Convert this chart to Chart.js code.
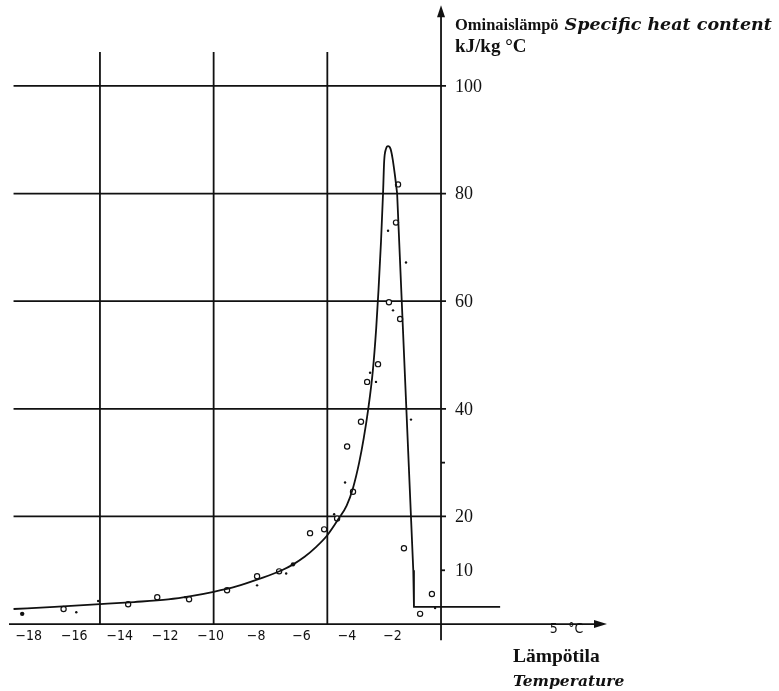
<!DOCTYPE html>
<html>
<head>
<meta charset="utf-8">
<script src="https://cdn.jsdelivr.net/npm/chart.js@4"></script>
<style>
  html, body { margin: 0; padding: 0; background: #fff; }
  canvas { display: block; }
</style>
</head>
<body>
<canvas id="myChart" width="779" height="691"></canvas>
<script>
// smooth curve (temperature °C, specific heat kJ/kg °C)
var curveT = [-18.8, -17, -15, -13.5, -12, -11, -10, -9, -8, -7, -6.5, -6, -5.5, -5, -4.5, -4.15, -3.87, -3.6, -3.4, -3.2, -3.0, -2.85, -2.75, -2.64, -2.55, -2.5, -2.42, -2.33, -2.22, -2.13, -2.03, -1.93];
var curveC = [2.8, 3.2, 3.7, 4.1, 4.6, 5.2, 6.0, 7.0, 8.4, 10.0, 11.1, 12.5, 14.3, 16.5, 19.6, 22.0, 25.3, 30, 34.5, 40, 47, 55, 62, 71, 80, 86, 88.3, 88.8, 88.3, 86.5, 83.5, 80];
// straight drop after the peak
var dropT = [-1.93, -1.22, -1.19, 2.6];
var dropC = [80, 10, 3.2, 3.2];
// measured points, open circles
var circT = [-16.6, -13.76, -12.48, -11.08, -9.41, -8.09, -7.12, -5.76, -5.14, -4.57, -3.87, -4.13, -3.52, -3.25, -2.77, -1.89, -1.98, -2.29, -1.80, -1.63, -0.40, -0.92];
var circC = [2.8, 3.7, 5.0, 4.6, 6.3, 8.9, 9.8, 16.9, 17.6, 19.6, 24.6, 33.0, 37.6, 45.0, 48.3, 81.7, 74.6, 59.8, 56.7, 14.1, 5.6, 1.9];
// measured points, small dots
var dotT = [-16.04, -15.08, -11.25, -8.09, -6.81, -4.70, -4.22, -3.12, -2.86, -1.32, -2.33, -1.54, -2.11, -0.26];
var dotC = [2.2, 4.3, 5.0, 7.2, 9.4, 20.4, 26.3, 46.7, 45.0, 38.0, 73.1, 67.2, 58.3, 3.0];
var bigDotT = [-18.42, -6.51];
var bigDotC = [1.9, 11.1];

var xTicks = [-18, -16, -14, -12, -10, -8, -6, -4, -2];
var xEndTick = 5;
var yTicks = [100, 80, 60, 40, 20, 10];
var gridX = [-15, -10, -5];
var gridY = [20, 40, 60, 80, 100];
var minorY = [10, 30];

var yTitle = "Ominaislämpö";
var yTitleEn = "Specific heat content";
var yUnit = "kJ/kg °C";
var xTitle = "Lämpötila";
var xTitleEn = "Temperature";
var xUnit = "°C";

function pts(a, b) {
  var out = [];
  for (var i = 0; i < a.length; i++) out.push({x: a[i], y: b[i]});
  return out;
}

var ink = "#111";

var axesPlugin = {
  id: "axesPlugin",
  beforeDatasetsDraw: function(chart) {
    var c = chart.ctx;
    var sx = chart.scales.x, sy = chart.scales.y;
    var x0 = sx.getPixelForValue(0), y0 = sy.getPixelForValue(0);
    c.save();
    c.strokeStyle = ink;
    c.lineWidth = 1.8;
    // horizontal grid
    gridY.forEach(function(v) {
      var y = sy.getPixelForValue(v);
      c.beginPath();
      c.moveTo(sx.getPixelForValue(-18.8), y);
      c.lineTo(x0 + 5, y);
      c.stroke();
    });
    // vertical grid
    gridX.forEach(function(v) {
      var x = sx.getPixelForValue(v);
      c.beginPath();
      c.moveTo(x, y0);
      c.lineTo(x, sy.getPixelForValue(106.3));
      c.stroke();
    });
    minorY.forEach(function(v) {
      var y = sy.getPixelForValue(v);
      c.beginPath();
      c.moveTo(x0, y);
      c.lineTo(x0 + 4, y);
      c.stroke();
    });
    // x axis with arrow
    var xEnd = sx.getPixelForValue(7.3);
    c.beginPath();
    c.moveTo(sx.getPixelForValue(-19), y0);
    c.lineTo(xEnd - 8, y0);
    c.stroke();
    c.fillStyle = ink;
    c.beginPath();
    c.moveTo(xEnd, y0);
    c.lineTo(xEnd - 13, y0 - 4);
    c.lineTo(xEnd - 13, y0 + 4);
    c.closePath();
    c.fill();
    // y axis with arrow
    var yTop = sy.getPixelForValue(115);
    c.beginPath();
    c.moveTo(x0, sy.getPixelForValue(-3));
    c.lineTo(x0, yTop + 8);
    c.stroke();
    c.beginPath();
    c.moveTo(x0, yTop);
    c.lineTo(x0 - 4, yTop + 12);
    c.lineTo(x0 + 4, yTop + 12);
    c.closePath();
    c.fill();
    c.restore();
  },
  afterDraw: function(chart) {
    var c = chart.ctx;
    var sx = chart.scales.x, sy = chart.scales.y;
    var x0 = sx.getPixelForValue(0), y0 = sy.getPixelForValue(0);
    c.save();
    c.fillStyle = ink;
    // x tick labels
    c.font = "14px 'DejaVu Sans Condensed', 'DejaVu Sans', sans-serif";
    c.textAlign = "center";
    c.textBaseline = "middle";
    xTicks.forEach(function(v) {
      c.fillText("\u2212" + Math.abs(v), sx.getPixelForValue(v) - 3, y0 + 12);
    });
    c.fillText(String(xEndTick), sx.getPixelForValue(xEndTick) - 1, y0 + 5);
    c.fillText(xUnit, sx.getPixelForValue(xEndTick) + 21, y0 + 5);
    // y tick labels
    c.font = "18px 'Liberation Serif', serif";
    c.textAlign = "left";
    yTicks.forEach(function(v) {
      c.fillText(String(v), x0 + 14, sy.getPixelForValue(v) + 1);
    });
    // y title
    c.textBaseline = "alphabetic";
    c.font = "bold 16.5px 'Liberation Serif', serif";
    c.fillText(yTitle, x0 + 14, 30);
    var w = c.measureText(yTitle).width;
    c.font = "italic bold 17.5px 'DejaVu Serif', serif";
    c.fillText(yTitleEn, x0 + 14 + w + 6, 30);
    c.font = "bold 19px 'Liberation Serif', serif";
    c.fillText(yUnit, x0 + 14, 52);
    // x title
    c.font = "bold 19.5px 'Liberation Serif', serif";
    c.fillText(xTitle, 513, 662);
    c.font = "italic bold 15.5px 'DejaVu Serif', serif";
    c.fillText(xTitleEn, 513, 686);
    c.restore();
  }
};

new Chart("myChart", {
  type: "scatter",
  data: {
    datasets: [
      {
        type: "line",
        data: pts(curveT, curveC),
        borderColor: ink,
        borderWidth: 1.8,
        pointRadius: 0,
        fill: false,
        cubicInterpolationMode: "monotone"
      },
      {
        type: "line",
        data: pts(dropT, dropC),
        borderColor: ink,
        borderWidth: 1.8,
        pointRadius: 0,
        fill: false,
        tension: 0
      },
      {
        data: pts(circT, circC),
        pointRadius: 2.6,
        pointBackgroundColor: "#fff",
        pointBorderColor: ink,
        pointBorderWidth: 1.2
      },
      {
        data: pts(dotT, dotC),
        pointRadius: 1.2,
        pointBackgroundColor: ink,
        pointBorderWidth: 0
      },
      {
        data: pts(bigDotT, bigDotC),
        pointRadius: 2.2,
        pointBackgroundColor: ink,
        pointBorderWidth: 0
      }
    ]
  },
  options: {
    responsive: false,
    animation: false,
    events: [],
    layout: { padding: { left: 9, right: 172, top: 3, bottom: 40 } },
    plugins: { legend: { display: false }, tooltip: { enabled: false } },
    scales: {
      x: { type: "linear", min: -19, max: 7.3, display: false },
      y: { type: "linear", min: -5, max: 115, display: false }
    }
  },
  plugins: [axesPlugin]
});
</script>
</body>
</html>
